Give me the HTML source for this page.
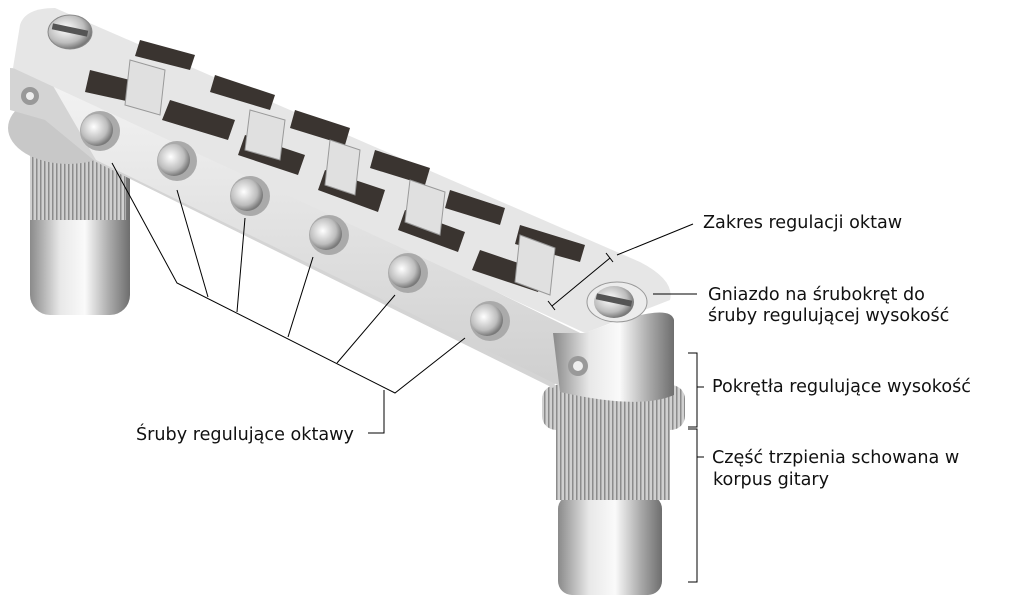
<!DOCTYPE html>
<html><head><meta charset="utf-8"><style>
html,body{margin:0;padding:0;background:#fff;}
svg{display:block}
text{font-family:"DejaVu Sans","Liberation Sans",sans-serif;font-size:17.6px;fill:#111}
</style></head><body>
<svg width="1012" height="600" viewBox="0 0 1012 600" xmlns="http://www.w3.org/2000/svg">
<defs>
<linearGradient id="post" x1="0" x2="1" y1="0" y2="0">
<stop offset="0" stop-color="#8a8a8a"/><stop offset="0.3" stop-color="#e8e8e8"/><stop offset="0.55" stop-color="#fafafa"/><stop offset="0.8" stop-color="#a8a8a8"/><stop offset="1" stop-color="#6e6e6e"/></linearGradient>
<linearGradient id="body" x1="0" x2="0" y1="0" y2="1">
<stop offset="0" stop-color="#f4f4f4"/><stop offset="1" stop-color="#cfcfcf"/></linearGradient>
<pattern id="knurl" width="4" height="10" patternUnits="userSpaceOnUse"><rect width="4" height="10" fill="#d0d0d0"/><rect width="1.5" height="10" fill="#8c8c8c"/></pattern>
<radialGradient id="scr" cx="0.4" cy="0.4" r="0.6"><stop offset="0" stop-color="#fff"/><stop offset="0.7" stop-color="#bdbdbd"/><stop offset="1" stop-color="#7a7a7a"/></radialGradient>
</defs>
<!-- left post -->
<rect x="30" y="140" width="100" height="175" rx="20" fill="url(#post)"/>
<rect x="30" y="140" width="96" height="80" fill="url(#knurl)"/>
<ellipse cx="68" cy="128" rx="60" ry="36" fill="#c8c8c8"/>
<!-- right post -->
<rect x="558" y="495" width="104" height="100" rx="14" fill="url(#post)"/>
<rect x="556" y="428" width="114" height="72" fill="url(#knurl)"/>
<rect x="542" y="385" width="143" height="45" rx="14" fill="url(#knurl)"/>
<!-- bridge front face -->
<polygon points="10,68 45,70 580,333 553,388 96,162 45,120 10,110" fill="#d4d4d4"/>
<polygon points="45,72 580,333 560,386 96,160" fill="url(#body)"/>
<!-- top face -->
<path d="M20,25 Q25,8 55,8 L640,262 Q675,280 670,300 L585,333 L13,68 Z" fill="#e6e6e6"/>
<!-- right cylinder -->
<path d="M553,333 L585,333 Q670,300 674,320 L674,395 Q640,410 560,392 Z" fill="url(#post)"/>
<ellipse cx="617" cy="302" rx="30" ry="20" fill="#ececec" stroke="#999"/>
<ellipse cx="614" cy="302" rx="20" ry="16" fill="url(#scr)"/>
<rect x="596" y="297" width="36" height="6" fill="#555" transform="rotate(12 614 300)"/>
<ellipse cx="70" cy="32" rx="22" ry="17" fill="url(#scr)" stroke="#888"/>
<rect x="52" y="27" width="36" height="6" fill="#555" transform="rotate(12 70 30)"/>
<!-- slots -->
<g fill="#3a3430">
<polygon points="90,70 150,85 145,105 85,92"/>
<polygon points="140,40 195,55 190,70 135,56"/>
<polygon points="170,100 235,120 228,140 162,120"/>
<polygon points="215,75 275,95 270,110 210,92"/>
<polygon points="245,135 305,155 298,175 238,155"/>
<polygon points="295,110 350,128 345,145 290,128"/>
<polygon points="325,170 385,190 378,212 318,190"/>
<polygon points="375,150 430,168 425,185 370,168"/>
<polygon points="405,210 465,232 458,252 398,230"/>
<polygon points="450,190 505,208 500,225 445,208"/>
<polygon points="480,250 545,272 538,292 472,270"/>
<polygon points="520,225 585,245 580,262 515,244"/>
</g>
<g fill="#e0e0e0" stroke="#999">
<polygon points="130,60 165,70 160,115 125,105"/>
<polygon points="250,110 285,120 280,160 245,150"/>
<polygon points="330,140 360,150 355,195 325,185"/>
<polygon points="410,180 445,192 440,235 405,222"/>
<polygon points="520,235 555,248 550,295 515,282"/>
</g>
<!-- screws -->
<g>
<circle cx="100" cy="131" r="20" fill="#aaa"/><circle cx="97" cy="130" r="16" fill="url(#scr)"/>
<circle cx="177" cy="161" r="20" fill="#aaa"/><circle cx="174" cy="160" r="16" fill="url(#scr)"/>
<circle cx="250" cy="196" r="20" fill="#aaa"/><circle cx="247" cy="195" r="16" fill="url(#scr)"/>
<circle cx="329" cy="235" r="20" fill="#aaa"/><circle cx="326" cy="234" r="16" fill="url(#scr)"/>
<circle cx="408" cy="273" r="20" fill="#aaa"/><circle cx="405" cy="272" r="16" fill="url(#scr)"/>
<circle cx="490" cy="321" r="20" fill="#aaa"/><circle cx="487" cy="320" r="16" fill="url(#scr)"/>
<circle cx="578" cy="366" r="10" fill="#999"/><circle cx="578" cy="366" r="5" fill="#eee"/>
<circle cx="30" cy="96" r="9" fill="#999"/><circle cx="30" cy="96" r="4" fill="#eee"/>
</g>
<!-- annotation lines -->
<g stroke="#000" stroke-width="1" fill="none">
<polyline points="112,163 177,283 395,393 465,338"/>
<line x1="177" y1="190" x2="208" y2="297"/>
<line x1="245" y1="218" x2="237" y2="312"/>
<line x1="313" y1="257" x2="288" y2="337"/>
<line x1="395" y1="295" x2="337" y2="363"/>
<polyline points="384,390 384,433 368,433"/>
<line x1="693" y1="224" x2="617" y2="255"/>
<line x1="610" y1="258" x2="552" y2="306"/>
<line x1="606" y1="253" x2="613" y2="262"/>
<line x1="548" y1="301" x2="555" y2="310"/>
<line x1="653" y1="294" x2="697" y2="294"/>
<polyline points="688,353 697,353 697,427 688,427"/>
<line x1="697" y1="387" x2="704" y2="387"/>
<polyline points="688,429 697,429 697,582 688,582"/>
<line x1="697" y1="457" x2="704" y2="457"/>
</g>
<text x="703" y="228">Zakres regulacji oktaw</text>
<text x="708" y="300">Gniazdo na śrubokręt do</text>
<text x="708" y="321">śruby regulującej wysokość</text>
<text x="712" y="392">Pokrętła regulujące wysokość</text>
<text x="712" y="463">Część trzpienia schowana w</text>
<text x="713" y="485">korpus gitary</text>
<text x="136" y="440">Śruby regulujące oktawy</text>
</svg>
</body></html>
